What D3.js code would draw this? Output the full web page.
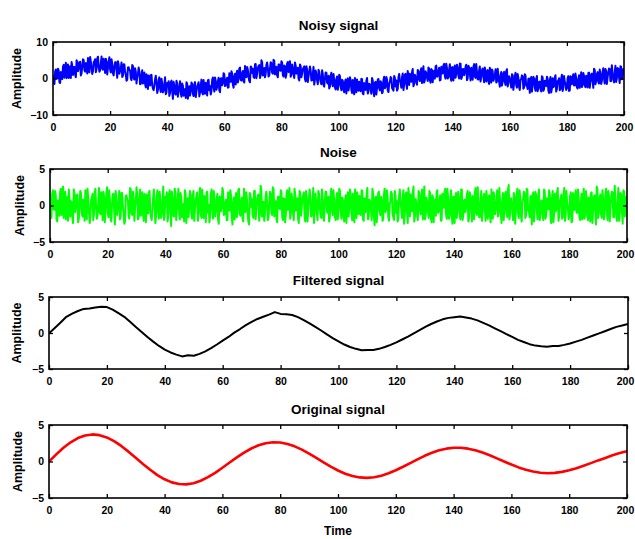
<!DOCTYPE html>
<html><head><meta charset="utf-8">
<script src="https://cdn.jsdelivr.net/npm/d3@7"></script>
<style>body{margin:0;background:#fff} svg{display:block}</style>
</head><body>
<svg id="c" width="635" height="539"></svg>
<script>
// ---- data ----
const xTickValues = [0,20,40,60,80,100,120,140,160,180,200];
const titles = ["Noisy signal","Noise","Filtered signal","Original signal"];

// original signal, t = 0..200 step 2.5
const originalT = d3.range(0, 200.001, 2.5);
const original = [0,0.98,1.88,2.63,3.21,3.57,3.71,3.61,3.30,2.79,2.13,1.35,0.51,-0.34,-1.14,-1.86,-2.44,-2.86,-3.09,-3.13,-2.97,-2.64,-2.15,-1.55,-0.86,-0.14,0.56,1.22,1.78,2.22,2.51,2.64,2.61,2.41,2.08,1.62,1.08,0.49,-0.12,-0.71,-1.23,-1.67,-1.99,-2.18,-2.24,-2.15,-1.94,-1.61,-1.20,-0.72,-0.21,0.30,0.78,1.20,1.53,1.76,1.88,1.88,1.76,1.54,1.23,0.85,0.43,0,-0.42,-0.81,-1.14,-1.38,-1.54,-1.60,-1.56,-1.42,-1.20,-0.92,-0.58,-0.22,0.15,0.49,0.85,1.15,1.40];

// filtered signal, t = 0..200 step 2
const filteredT = d3.range(0, 200.001, 2);
const filtered = [-0.05,0.70,1.45,2.25,2.70,3.05,3.35,3.40,3.55,3.65,3.60,3.25,2.75,2.25,1.55,0.85,0.15,-0.55,-1.20,-1.80,-2.30,-2.70,-3.00,-3.25,-3.10,-3.15,-2.90,-2.55,-2.10,-1.60,-1.05,-0.55,0.05,0.55,1.10,1.55,1.95,2.25,2.55,2.90,2.65,2.60,2.50,2.20,1.80,1.35,0.85,0.35,-0.20,-0.70,-1.15,-1.60,-1.95,-2.20,-2.40,-2.35,-2.35,-2.20,-1.95,-1.65,-1.30,-0.90,-0.50,-0.05,0.40,0.85,1.25,1.60,1.90,2.10,2.20,2.30,2.15,2.00,1.75,1.40,1.05,0.65,0.25,-0.15,-0.55,-0.95,-1.25,-1.55,-1.75,-1.85,-1.90,-1.80,-1.80,-1.65,-1.45,-1.20,-0.95,-0.65,-0.35,-0.05,0.25,0.55,0.85,1.05,1.25];

// noise samples at t = 0, 0.5, ..., 200
const noiseA = [
0.9,-1.7,2.1,-0.6,1.4,-2.2,0.3,1.9,-1.3,2.6,
-0.8,-1.9,1.2,2.2,-1.5,0.5,-2.4,1.7,-0.2,1.5,
-1.8,2.0,-1.1,0.8,-2.1,1.6,2.3,-0.7,-1.6,1.0,
-2.0,1.8,-0.4,-1.4,2.4,-1.2,0.6,1.9,-2.3,1.3,
-0.9,2.1,-1.7,0.2,1.6,-2.6,1.1,-0.5,2.0,-1.5,
1.7,-1.0,-2.2,1.4,0.7,-1.8,2.2,-1.3,1.0,-0.3,
2.5,-1.9,0.9,-1.4,1.8,-2.1,0.4,1.5,-1.1,2.0,
-1.6,-0.6,2.2,-2.4,1.3,-0.8,1.9,-1.7,0.6,-2.0,
1.2,1.8,-1.3,2.1,-2.8,0.8,-1.5,1.6,-0.4,2.3,
-1.9,1.1,-0.9,-2.2,1.7,0.3,-1.6,2.0,-1.2,1.4,
-2.1,0.6,1.8,-1.0,2.4,-1.7,-0.5,1.3,-2.3,1.9,
0.1,-1.4,2.2,-1.8,1.0,-0.7,1.6,-2.5,1.2,-0.3,
2.0,-1.2,0.8,-2.0,1.5,2.1,-1.6,0.4,-1.9,1.7,
-0.6,2.3,-1.4,1.1,-2.2,0.7,1.8,-1.0,-2.6,1.4,
0.9,-1.7,2.0,-0.8,1.3,-2.1,2.7,-1.5,0.5,-1.2,
1.9,-2.0,0.2,1.6,-1.3,2.2,-0.9,-1.8,1.2,-0.4,
2.1,-1.6,1.0,-2.3,1.7,-0.6,2.4,-1.1,0.7,-2.0,
1.5,-0.3,-1.9,2.0,-1.4,0.9,1.8,-2.2,1.1,-0.7,
2.2,-1.5,0.4,-2.4,1.6,-1.0,2.0,-0.2,-1.7,1.3,
-2.1,1.9,-0.8,1.2,-1.6,2.3,-1.3,0.6,-2.0,1.7,
-0.5,2.0,-1.8,0.9,-2.2,1.4,0.3,-1.5,2.2,-1.1,
1.6,-2.3,0.7,1.8,-1.2,-0.4,2.1,-1.9,1.0,-0.9,
2.4,-1.4,0.5,-2.0,1.7,-2.7,1.2,-0.6,1.9,-1.3,
0.8,-1.8,2.3,-0.5,1.4,-2.1,0.6,1.6,-1.6,2.0,
-1.0,-2.2,1.3,0.4,-1.7,2.1,-1.1,1.8,-2.4,0.9,
1.5,-0.8,2.6,-1.5,0.2,-2.0,1.7,-1.2,2.2,-0.6,
-1.9,1.1,-0.7,2.0,-1.6,1.4,-2.3,0.8,1.9,-1.0,
0.5,-2.1,1.6,-0.3,2.3,-1.8,1.0,-1.4,2.1,-2.5,
1.2,0.6,-1.7,1.9,-1.1,2.2,-2.0,0.7,-0.9,1.5,
-2.2,1.8,-0.4,1.3,-1.9,2.4,-1.3,0.3,-1.6,2.0,
-0.7,1.6,-2.1,1.0,0.8,-1.5,2.2,-1.8,1.4,-0.5,
2.1,-1.2,0.6,-2.4,1.7,-0.9,1.9,-1.6,2.8,-1.0,
0.4,-2.0,1.5,-0.6,2.3,-1.7,1.1,-2.2,0.9,1.6,
-1.4,2.0,-0.8,1.2,-2.6,1.8,-0.3,1.4,-1.9,2.2,
-1.1,0.7,-2.0,1.9,-1.3,0.5,2.1,-1.7,1.0,-2.3,
1.6,-0.6,2.4,-1.4,0.9,-1.8,1.3,-2.1,2.0,-0.2,
-1.5,1.8,-2.2,0.8,1.5,-1.0,2.2,-1.6,0.4,-1.9,
2.3,-1.3,1.1,-2.0,0.6,1.7,-2.4,1.2,-0.7,2.6,
-1.7,0.9,-1.2,2.1,-1.9,1.4,-0.5,2.0,-2.2,1.0,
1.8,-1.6,0.3,-2.1,2.4,-1.1,1.5,-2.5,1.9,-0.8,
1.1];
// noise samples at t = 0.25, 0.75, ..., 199.75
const noiseB = [
-1.2,1.6,-0.5,2.0,-1.9,0.7,-1.4,2.3,0.4,-1.7,
1.9,-0.3,-2.1,1.1,0.6,-1.6,2.2,-0.9,1.4,-2.3,
0.2,1.7,-1.5,-0.6,2.1,-1.9,1.0,-2.4,0.8,1.6,
-1.1,2.3,-1.8,0.5,-0.9,1.8,-2.0,1.2,-0.4,2.5,
-1.6,0.9,-2.2,1.5,-0.7,2.0,-1.3,0.3,-1.9,1.7,
-0.2,-2.5,1.3,0.8,-1.4,2.4,-1.0,1.9,-2.1,0.6,
1.4,-1.7,2.2,-0.5,-1.2,1.6,-2.3,0.9,1.8,-0.8,
-2.0,1.1,0.4,-1.5,2.1,-1.8,0.7,-1.1,2.6,-1.4,
0.5,-2.2,1.6,-0.6,1.9,-1.3,2.3,-2.0,0.8,-0.9,
1.7,-1.6,0.2,2.1,-2.4,1.0,-0.3,1.5,-1.8,2.0,
-0.6,1.3,-2.1,0.9,-1.2,2.2,-1.7,0.4,1.8,-1.0,
-2.3,1.6,-0.4,2.0,-1.5,0.7,-1.9,1.2,-0.8,2.4,
-1.3,0.3,-2.0,1.8,-0.7,1.4,-2.6,1.1,0.6,-1.6,
2.1,-1.1,0.5,-1.8,2.3,-0.9,1.0,-2.2,1.7,-0.2,
-1.4,2.0,-1.9,0.8,1.5,-1.2,2.2,-0.6,-2.1,1.3,
0.4,-1.7,1.9,-1.0,2.5,-1.5,0.6,-2.3,1.2,-0.5,
1.8,-2.0,0.9,-1.3,2.1,-0.4,-1.8,1.6,-1.1,2.3,
-0.7,1.0,-2.4,1.7,-0.3,1.4,-1.6,2.0,-2.2,0.8,
1.2,-1.4,2.4,-0.9,0.5,-2.0,1.6,-1.2,2.2,-1.7,
0.3,1.9,-1.0,-2.2,1.4,-0.6,2.1,-1.5,0.9,-1.9,
2.3,-0.8,1.1,-1.6,0.6,-2.4,1.8,-0.2,1.5,-2.0,
-1.1,2.2,-1.7,0.4,1.3,-1.3,2.0,-2.1,0.7,1.6,
-1.9,0.8,-0.5,2.3,-1.4,1.0,-2.3,1.7,-0.7,1.2,
-2.1,1.5,-0.9,2.1,-1.6,0.2,1.9,-1.2,-2.0,1.4,
0.6,-1.8,2.2,-0.4,1.1,-2.5,1.6,-1.0,2.4,-1.5,
-0.3,1.8,-2.2,0.9,-1.3,2.0,-0.6,1.3,-1.9,2.6,
-1.2,0.5,-1.7,1.6,-2.3,1.1,0.7,-1.4,2.1,-0.8,
1.4,-2.0,0.3,1.9,-1.1,2.3,-1.8,0.6,-1.5,1.2,
-2.4,1.7,-0.5,1.0,-1.9,2.2,-1.4,0.8,-0.2,2.0,
-1.7,1.3,-2.2,0.4,1.6,-1.0,2.5,-1.6,0.9,-2.1,
1.1,-0.6,2.0,-1.8,1.4,-2.3,0.7,1.8,-1.2,0.3,
-1.5,2.4,-1.0,0.6,-2.0,1.5,-0.8,2.2,-1.9,1.0,
-0.4,1.7,-2.5,1.2,-1.1,2.1,-1.4,0.5,1.9,-1.7,
2.3,-0.7,-1.6,1.3,0.8,-2.2,1.9,-0.9,1.4,-2.0,
0.6,-1.3,2.2,-1.8,1.0,-0.5,1.6,-2.4,2.0,-1.1,
-0.8,1.8,-2.1,0.7,1.5,-1.5,2.4,-1.2,0.4,-1.9,
1.2,-2.3,1.7,-0.6,2.1,-1.0,0.9,-2.0,1.6,-0.3,
-1.8,2.0,-1.4,1.1,-2.2,1.8,-0.7,1.4,-2.6,2.2,
-0.9,1.5,-1.7,0.8,-1.2,2.3,-2.0,1.3,-0.5,1.9,
-1.6,2.7,-1.1,0.6,-2.1,1.7,-0.8,2.1,-1.5,1.2];

// merged noise table (sorted by time)
const noiseTable = noiseA.map((v,i)=>({t:i*0.5, v}))
  .concat(noiseB.map((v,i)=>({t:i*0.5+0.25, v})))
  .sort((a,b)=>a.t-b.t);
const noiseT = noiseTable.map(d=>d.t);
const noise = noiseTable.map(d=>d.v);

// noisy signal = original + noise
function originalAt(t){
  const k = t/2.5, i0 = Math.floor(k), i1 = Math.min(i0+1, original.length-1), f = k-i0;
  return original[i0]*(1-f) + original[i1]*f;
}
const noisy = noise.map((n,i)=> originalAt(noiseT[i]) + n);

// ---- layout ----
const panels = [
  {title:titles[0], t:noiseT, v:noisy, top:42, bottom:115, left:53, right:624, yDom:[-10,10], yTicks:[-10,0,10], color:"#0000ff", lw:2, titleY:30, ylabX:17},
  {title:titles[1], t:noiseT, v:noise, top:169, bottom:242, left:50, right:627, yDom:[-5,5], yTicks:[-5,0,5], color:"#00ff00", lw:2, titleY:157, ylabX:20},
  {title:titles[2], t:filteredT, v:filtered, top:297, bottom:369, left:49, right:628, yDom:[-5,5], yTicks:[-5,0,5], color:"#000000", lw:2, titleY:285, ylabX:17},
  {title:titles[3], t:originalT, v:original, top:425, bottom:498, left:49, right:627, yDom:[-5,5], yTicks:[-5,0,5], color:"#ff0000", lw:2.6, titleY:414, ylabX:18, xlabel:"Time"}
];

const svg = d3.select("#c");
const FONT = "'Liberation Sans', Arial, sans-serif";
const defs = svg.append("defs");

panels.forEach((p, idx) => {
  const x = d3.scaleLinear().domain([0,200]).range([p.left, p.right]);
  const y = d3.scaleLinear().domain(p.yDom).range([p.bottom, p.top]);
  const g = svg.append("g");

  defs.append("clipPath").attr("id","clip"+idx).append("rect")
    .attr("x",p.left).attr("y",p.top).attr("width",p.right-p.left).attr("height",p.bottom-p.top);

  const line = d3.line().x((d,i)=>x(p.t[i])).y(d=>y(d));
  g.append("path").datum(p.v)
    .attr("clip-path","url(#clip"+idx+")")
    .attr("fill","none").attr("stroke",p.color).attr("stroke-width",p.lw)
    .attr("stroke-linejoin","round")
    .attr("d", line);

  // axes with inward ticks
  const ax = [
    g.append("g").attr("transform",`translate(0,${p.bottom})`)
      .call(d3.axisBottom(x).tickValues(xTickValues).tickSizeInner(-4).tickSizeOuter(0).tickPadding(9).tickFormat(d3.format("d"))),
    g.append("g").attr("transform",`translate(0,${p.top})`)
      .call(d3.axisTop(x).tickValues(xTickValues).tickSizeInner(-4).tickSizeOuter(0).tickFormat("")),
    g.append("g").attr("transform",`translate(${p.left},0)`)
      .call(d3.axisLeft(y).tickValues(p.yTicks).tickSizeInner(-4).tickSizeOuter(0).tickPadding(5).tickFormat(d3.format("d"))),
    g.append("g").attr("transform",`translate(${p.right},0)`)
      .call(d3.axisRight(y).tickValues(p.yTicks).tickSizeInner(-4).tickSizeOuter(0).tickFormat(""))
  ];
  ax.forEach(a => {
    a.select(".domain").remove();
    a.selectAll(".tick line").attr("stroke","#000").attr("stroke-width",1.3);
    a.selectAll(".tick text").attr("font-family",FONT).attr("font-size",10.5).attr("font-weight","bold").attr("fill","#000");
  });
  // keep the last x label inside the page
  ax[0].selectAll(".tick text").filter(d=>d===200).attr("dx", (Math.min(p.right,625) - p.right) + "px");

  // frame
  g.append("rect").attr("x",p.left).attr("y",p.top)
    .attr("width",p.right-p.left).attr("height",p.bottom-p.top)
    .attr("fill","none").attr("stroke","#000").attr("stroke-width",1.6);

  // title
  g.append("text").attr("x",(p.left+p.right)/2).attr("y",p.titleY)
    .attr("text-anchor","middle").attr("font-family",FONT).attr("font-size",13.5).attr("font-weight","bold")
    .text(p.title);

  // y label
  g.append("text").attr("transform",`translate(${p.ylabX+4},${(p.top+p.bottom)/2}) rotate(-90)`)
    .attr("text-anchor","middle").attr("font-family",FONT).attr("font-size",12.5).attr("font-weight","bold")
    .text("Amplitude");

  if (p.xlabel) {
    g.append("text").attr("x",(p.left+p.right)/2).attr("y",535)
      .attr("text-anchor","middle").attr("font-family",FONT).attr("font-size",12).attr("font-weight","bold")
      .text(p.xlabel);
  }
});
</script>
</body></html>
